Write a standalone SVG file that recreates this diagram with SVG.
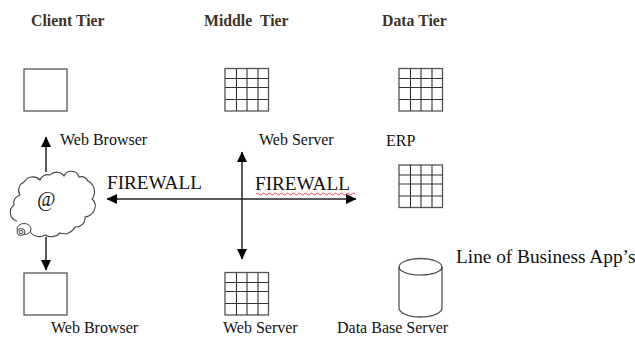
<svg xmlns="http://www.w3.org/2000/svg" width="635" height="338" viewBox="0 0 635 338">
<style>
text{font-family:"Liberation Serif","Times New Roman",serif;fill:#111}
.h{font-size:15.8px;font-weight:bold;fill:#43321f}
.l{font-size:16px}
.b{font-size:19.2px}
.s{fill:#fff;stroke:#555;stroke-width:1.3}
.g{fill:none;stroke:#333;stroke-width:1.1}
.c{fill:none;stroke:#222;stroke-width:1.5}
</style>
<defs>
<marker id="a" markerWidth="12" markerHeight="12" refX="10" refY="5" orient="auto-start-reverse" markerUnits="userSpaceOnUse"><path d="M0 0L10.500 5L0 10Z" fill="#000"/></marker>
<g id="grid"><rect class="s" x="0" y="0" width="43.500" height="42.500"/><path class="g" d="M11.500 0V42.500M22 0V42.500M33 0V42.500M0 10H43.500M0 19H43.500M0 31H43.500"/></g>
</defs>
<text class="h" x="31" y="26">Client Tier</text>
<text class="h" x="204" y="26" xml:space="preserve">Middle  Tier</text>
<text class="h" x="382" y="26">Data Tier</text>
<g id="client-box-top"><rect class="s" x="24" y="69" width="43" height="42"/></g>
<g id="client-box-bottom"><rect class="s" x="24" y="273" width="43" height="42"/></g>
<g id="web-server-top"><use href="#grid" x="225" y="68.500"/></g>
<g id="erp-grid-top"><use href="#grid" x="399" y="68.500"/></g>
<g id="erp-grid-mid"><use href="#grid" x="399" y="165"/></g>
<g id="web-server-bottom"><use href="#grid" x="225" y="272.500"/></g>
<g id="database"><path class="s" d="M399 267A21.500 8.500 0 0 1 442 267V308A21.500 9 0 0 1 399 308Z"/><path class="g" d="M399 267A21.500 8 0 0 0 442 267"/></g>
<g id="cloud">
<path fill="#fff" stroke="#444" stroke-width="1.1" d="M17 221A9 9 0 0 1 14 205A8 8 0 0 1 20 195A9 9 0 0 1 24 182A10 10 0 0 1 40 180A8 8 0 0 1 50 175A9 9 0 0 1 64 176A8 8 0 0 1 79 177A8 8 0 0 1 88 181A12 12 0 0 1 92 199A9 9 0 0 1 95 208A11 11 0 0 1 85 217A9 9 0 0 1 75 227A12 12 0 0 1 60 233A12 12 0 0 1 45 235A11 11 0 0 1 31 233A8 8 0 0 1 30 227"/>
<ellipse cx="24" cy="229" rx="7" ry="5.500" fill="#fff" stroke="#444"/><ellipse cx="21" cy="232" rx="4" ry="3.400" fill="#fff" stroke="#444"/><ellipse cx="21" cy="232" rx="2" ry="1.600" fill="none" stroke="#444"/>
<text x="37" y="206" font-style="italic" style="font-size:20px">@</text>
</g>
<g id="connectors">
<path class="c" d="M46 172V137" marker-end="url(#a)"/>
<path class="c" d="M46 237V270" marker-end="url(#a)"/>
<path class="c" d="M107 199H356" marker-start="url(#a)" marker-end="url(#a)"/>
<path class="c" d="M242 152V259" marker-start="url(#a)" marker-end="url(#a)"/>
</g>
<text class="l" x="60" y="145">Web Browser</text>
<text class="l" x="259" y="145">Web Server</text>
<text class="l" x="386" y="146">ERP</text>
<text class="b" x="107" y="189">FIREWALL</text>
<text class="b" x="255" y="190">FIREWALL</text>
<path d="M256 194q1.500 -2 3 0t3 0t3 0t3 0t3 0t3 0t3 0t3 0t3 0t3 0t3 0t3 0t3 0t3 0t3 0t3 0t3 0t3 0t3 0t3 0t3 0t3 0t3 0t3 0t3 0t3 0t3 0t3 0t3 0t3 0t3 0t3 0t3 0" fill="none" stroke="#e24a4a" stroke-width="1"/>
<text x="456" y="263" style="font-size:19.300px">Line of Business App’s</text>
<text class="l" x="51" y="333">Web Browser</text>
<text class="l" x="223" y="333">Web Server</text>
<text class="l" x="337" y="333">Data Base Server</text>
</svg>
